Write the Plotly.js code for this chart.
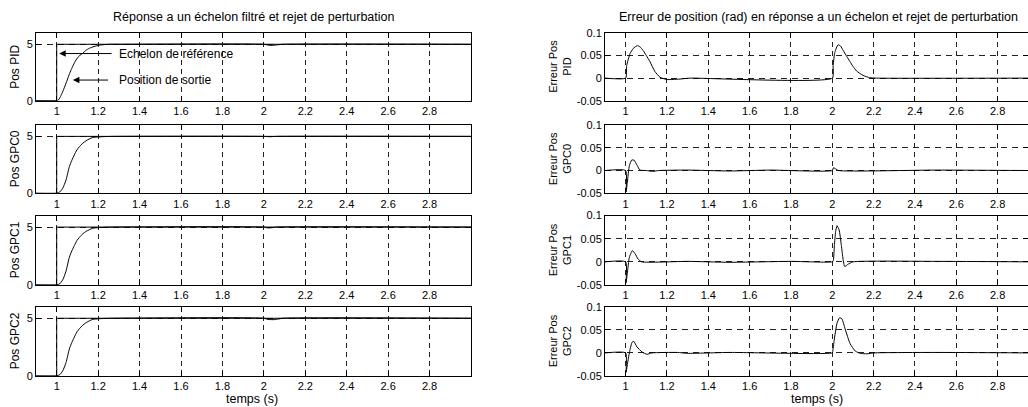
<!DOCTYPE html>
<html>
<head>
<meta charset="utf-8">
<script src="https://cdn.plot.ly/plotly-3.0.1.min.js"></script>
<style>html,body{margin:0;padding:0;background:#fff;}#chart{width:1028px;height:407px;}</style>
</head>
<body>
<div id="chart"></div>
<script>
// ---------- data ----------
const xTickVals = [1, 1.2, 1.4, 1.6, 1.8, 2, 2.2, 2.4, 2.6, 2.8];
const xTickText = ["1", "1.2", "1.4", "1.6", "1.8", "2", "2.2", "2.4", "2.6", "2.8"];
const posTickVals = [0, 5];
const errTickVals = [-0.05, 0, 0.05, 0.1];
const errTickText = ["-0.05", "0", "0.05", "0.1"];

const leftLabels = ["Pos PID", "Pos GPC0", "Pos GPC1", "Pos GPC2"];
const rightLabels = ["Erreur Pos<br>PID", "Erreur Pos<br>GPC0", "Erreur Pos<br>GPC1", "Erreur Pos<br>GPC2"];

// reference step
const tRef = [0.9, 1.0, 1.0, 3.0];
const posRef = [0, 0, 5, 5];

// output positions
const tPosPID = [0.9, 1.0, 1.01, 1.02, 1.03, 1.045, 1.06, 1.07, 1.08, 1.093, 1.11, 1.126, 1.14, 1.158, 1.18, 1.206, 1.23, 1.26, 1.3, 2.0, 2.02, 2.035, 2.05, 2.07, 2.09, 3.0];
const posPID  = [0, 0, 0.1, 0.45, 0.85, 1.55, 2.3, 2.75, 3.15, 3.6, 4.0, 4.2, 4.45, 4.65, 4.8, 4.92, 4.97, 5.0, 5.0, 5.0, 4.93, 4.9, 4.92, 4.96, 5.0, 5.0];

const tPosGPC0 = [0.9, 1.0, 1.015, 1.029, 1.045, 1.061, 1.073, 1.085, 1.097, 1.11, 1.126, 1.142, 1.158, 1.174, 1.2, 1.23, 1.27, 2.0, 2.03, 2.06, 3.0];
const posGPC0  = [0, 0, 0.12, 0.44, 1.17, 2.34, 2.9, 3.37, 3.8, 4.1, 4.4, 4.62, 4.78, 4.9, 4.95, 4.98, 5.0, 5.0, 4.97, 5.0, 5.0];

const tPosGPC1 = [0.9, 1.0, 1.015, 1.029, 1.045, 1.061, 1.073, 1.085, 1.097, 1.11, 1.126, 1.142, 1.158, 1.174, 1.2, 1.23, 1.27, 2.0, 2.02, 2.04, 2.06, 3.0];
const posGPC1  = [0, 0, 0.12, 0.44, 1.2, 2.4, 2.95, 3.4, 3.82, 4.12, 4.42, 4.63, 4.78, 4.9, 4.95, 4.98, 5.0, 5.0, 4.93, 4.95, 5.0, 5.0];

const tPosGPC2 = [0.9, 1.0, 1.015, 1.029, 1.045, 1.061, 1.073, 1.085, 1.097, 1.11, 1.126, 1.142, 1.158, 1.174, 1.2, 1.23, 1.27, 2.0, 2.02, 2.05, 2.07, 2.09, 3.0];
const posGPC2  = [0, 0, 0.12, 0.44, 1.17, 2.34, 2.9, 3.37, 3.8, 4.1, 4.4, 4.62, 4.78, 4.9, 4.95, 4.98, 5.0, 5.0, 4.9, 4.88, 4.93, 5.0, 5.0];

// position errors
const tErrPID = [0.9, 1.0, 1.005, 1.021, 1.037, 1.056, 1.07, 1.085, 1.1, 1.117, 1.141, 1.166, 1.198, 1.23, 1.263, 1.311, 2.0, 2.004, 2.012, 2.028, 2.04, 2.053, 2.07, 2.085, 2.1, 2.117, 2.149, 2.181, 2.215, 2.95];
const errPID  = [0, 0, 0.028, 0.054, 0.066, 0.072, 0.069, 0.061, 0.05, 0.037, 0.015, 0.002, -0.003, -0.003, -0.002, 0, 0, 0.028, 0.057, 0.074, 0.071, 0.061, 0.048, 0.037, 0.026, 0.016, 0.006, 0.001, 0.0, 0];

const tErrGPC0 = [0.9, 1.0, 1.002, 1.008, 1.018, 1.029, 1.04, 1.056, 1.069, 1.1, 1.13, 1.16, 1.3, 1.5, 1.7, 2.0, 2.005, 2.015, 2.03, 2.5, 2.95];
const errGPC0  = [0, 0, -0.047, -0.026, 0.011, 0.023, 0.023, 0.011, 0.001, 0, -0.002, 0, 0.001, -0.001, 0.001, 0, 0.006, 0.004, 0, 0.001, 0];

const tErrGPC1 = [0.9, 1.0, 1.002, 1.008, 1.018, 1.032, 1.045, 1.06, 1.077, 1.3, 1.5, 1.8, 2.0, 2.005, 2.01, 2.016, 2.023, 2.033, 2.044, 2.052, 2.06, 2.077, 2.1, 2.5, 2.95];
const errGPC1  = [0, 0, -0.045, -0.025, 0.01, 0.024, 0.018, 0.006, 0, 0.001, -0.001, 0.001, 0, 0.003, 0.035, 0.065, 0.078, 0.069, 0.035, 0.006, -0.01, -0.005, 0, 0.001, 0];

const tErrGPC2 = [0.9, 1.0, 1.002, 1.01, 1.02, 1.031, 1.039, 1.055, 1.079, 1.103, 1.127, 1.25, 1.3, 1.5, 2.0, 2.002, 2.009, 2.022, 2.035, 2.046, 2.062, 2.086, 2.111, 2.135, 2.167, 2.2, 2.5, 2.95];
const errGPC2  = [0, 0, -0.042, -0.02, 0.005, 0.023, 0.025, 0.013, 0.002, -0.003, 0, 0.001, -0.001, 0.001, 0, 0.003, 0.027, 0.063, 0.076, 0.074, 0.052, 0.02, 0.004, -0.001, -0.002, 0, 0.001, 0];

// ---------- layout geometry ----------
const W = 1028, H = 407;
const leftX = [36 / W, 471 / W];
const rightX = [605 / W, 1.0];
const panelPx = [[33, 100.7], [125, 193.3], [215.5, 285], [306.7, 376]];
const yDom = panelPx.map(p => [1 - p[1] / H, 1 - p[0] / H]);

const FAM = "Liberation Sans, Arial, sans-serif";
const lineStyle = { color: "#000", width: 1 };
const font = { family: FAM, size: 11, color: "#000" };
const titleFont = { family: FAM, size: 12.5, color: "#000" };
const leftLabFont = { family: FAM, size: 12, color: "#000" };
const rightLabFont = { family: FAM, size: 11, color: "#000" };

const posSeries = [[tPosPID, posPID], [tPosGPC0, posGPC0], [tPosGPC1, posGPC1], [tPosGPC2, posGPC2]];
const errSeries = [[tErrPID, errPID], [tErrGPC0, errGPC0], [tErrGPC1, errGPC1], [tErrGPC2, errGPC2]];

const traces = [];
const layout = {
  width: W, height: H,
  margin: { l: 0, r: 0, t: 0, b: 0 },
  paper_bgcolor: "#fff", plot_bgcolor: "#fff",
  showlegend: false,
  font: font,
  annotations: []
};

function axisX(anchor, domain, range) {
  return {
    domain: domain, range: range, anchor: anchor,
    tickvals: xTickVals, ticktext: xTickText,
    ticks: "inside", ticklen: 5, tickcolor: "#000", tickwidth: 1,
    showline: true, linecolor: "#000", linewidth: 1, mirror: "ticks",
    showgrid: true, gridcolor: "#222", gridwidth: 1, griddash: "5px,4px",
    zeroline: false, tickfont: font, fixedrange: true
  };
}
function axisY(anchor, domain, range, vals, text) {
  const a = {
    domain: domain, range: range, anchor: anchor,
    tickvals: vals,
    ticks: "inside", ticklen: 5, tickcolor: "#000", tickwidth: 1,
    showline: true, linecolor: "#000", linewidth: 1, mirror: "ticks",
    showgrid: true, gridcolor: "#222", gridwidth: 1, griddash: "6px,5px",
    zeroline: false, tickfont: font, fixedrange: true
  };
  if (text) a.ticktext = text;
  return a;
}
function axId(letter, n) { return n === 1 ? letter : letter + n; }

for (let i = 0; i < 4; i++) {
  const li = i + 1, ri = i + 5;
  const lx = axId("x", li), ly = axId("y", li), rx = axId("x", ri), ry = axId("y", ri);
  layout["xaxis" + (li === 1 ? "" : li)] = axisX(ly, leftX, [0.9, 3.0]);
  layout["yaxis" + (li === 1 ? "" : li)] = axisY(lx, yDom[i], [0, 6], posTickVals, null);
  layout["xaxis" + ri] = axisX(ry, rightX, [0.9, 2.947]);
  layout["yaxis" + ri] = axisY(rx, yDom[i], [-0.05, 0.1], errTickVals, errTickText);

  traces.push({ x: tRef, y: posRef, xaxis: lx, yaxis: ly, mode: "lines", line: lineStyle, hoverinfo: "skip" });
  traces.push({ x: posSeries[i][0], y: posSeries[i][1], xaxis: lx, yaxis: ly, mode: "lines", line: { color: "#000", width: 1, shape: "spline", smoothing: 0.6 }, hoverinfo: "skip" });
  traces.push({ x: errSeries[i][0], y: errSeries[i][1], xaxis: rx, yaxis: ry, mode: "lines", line: { color: "#000", width: 1, shape: "spline", smoothing: 0.5 }, hoverinfo: "skip" });

  const yc = (yDom[i][0] + yDom[i][1]) / 2;
  layout.annotations.push({ text: leftLabels[i], xref: "paper", yref: "paper", x: 15 / W, y: yc, textangle: -90, showarrow: false, xanchor: "center", yanchor: "middle", font: leftLabFont });
  layout.annotations.push({ text: rightLabels[i], xref: "paper", yref: "paper", x: 560 / W, y: yc, textangle: -90, showarrow: false, xanchor: "center", yanchor: "middle", font: rightLabFont });
}

// titles
layout.annotations.push({ text: "Réponse a un échelon filtré et rejet de perturbation", xref: "paper", yref: "paper", x: 253 / W, y: 1 - 17 / H, showarrow: false, xanchor: "center", yanchor: "middle", font: titleFont });
layout.annotations.push({ text: "Erreur de position (rad) en réponse a un échelon et rejet de perturbation", xref: "paper", yref: "paper", x: 818 / W, y: 1 - 17 / H, showarrow: false, xanchor: "center", yanchor: "middle", font: titleFont });
layout.annotations.push({ text: "temps (s)", xref: "paper", yref: "paper", x: 252 / W, y: 0, showarrow: false, xanchor: "center", yanchor: "bottom", borderpad: 0, font: titleFont });
layout.annotations.push({ text: "temps (s)", xref: "paper", yref: "paper", x: 817 / W, y: 0, showarrow: false, xanchor: "center", yanchor: "bottom", borderpad: 0, font: titleFont });

// arrows + texts in first panel
const afont = { family: FAM, size: 12, color: "#000" };
layout.annotations.push({ text: "", xref: "x", yref: "y", x: 1.012, y: 4.18, ax: 1.272, ay: 4.18, axref: "x", ayref: "y", showarrow: true, arrowhead: 2, arrowsize: 1.3, arrowwidth: 1, arrowcolor: "#000", standoff: 0, startstandoff: 0 });
layout.annotations.push({ text: "Echelon de référence", xref: "x", yref: "y", x: 1.29, y: 4.18, showarrow: false, xanchor: "left", yanchor: "middle", font: afont });
layout.annotations.push({ text: "", xref: "x", yref: "y", x: 1.078, y: 1.83, ax: 1.255, ay: 1.83, axref: "x", ayref: "y", showarrow: true, arrowhead: 2, arrowsize: 1.3, arrowwidth: 1, arrowcolor: "#000", standoff: 0, startstandoff: 0 });
layout.annotations.push({ text: "Position de sortie", xref: "x", yref: "y", x: 1.29, y: 1.83, showarrow: false, xanchor: "left", yanchor: "middle", font: afont });

Plotly.newPlot("chart", traces, layout, { staticPlot: true, displayModeBar: false });
</script>
</body>
</html>
